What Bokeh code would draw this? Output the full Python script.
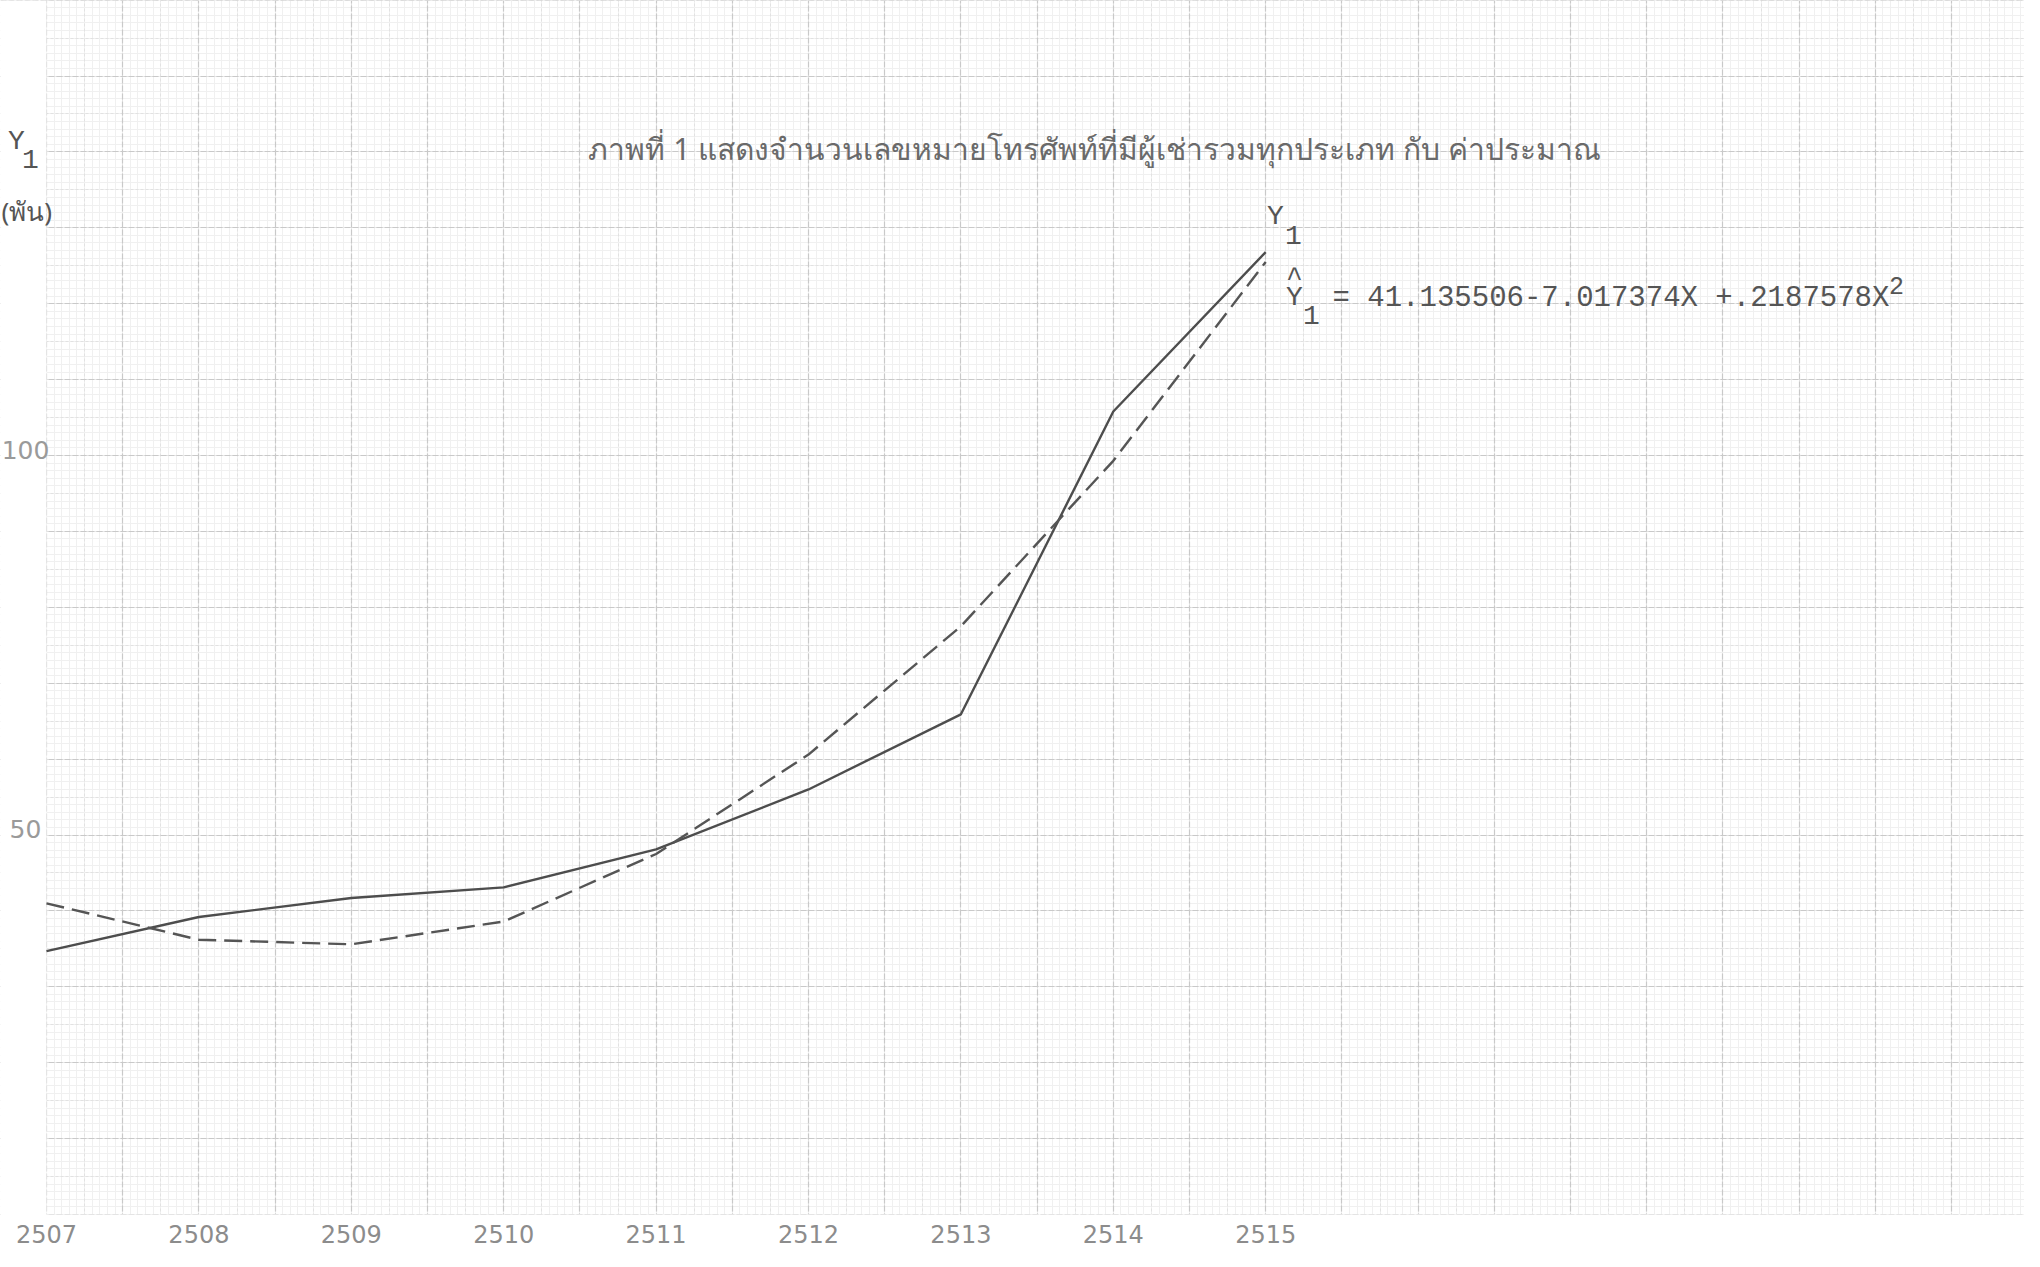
import numpy as np
from bokeh.plotting import figure
from bokeh.models import Grid, FixedTicker, BoxAnnotation, Label, Range1d
from bokeh.core.properties import value
from bokeh.embed import file_html
from bokeh.resources import INLINE

# ---- data ----
years = [2507, 2508, 2509, 2510, 2511, 2512, 2513, 2514, 2515]
actual_y1 = [34.7, 39.2, 41.7, 43.1, 48.1, 56.0, 65.9, 105.8, 126.8]
estimated_y1 = [41.0, 36.2, 35.6, 38.6, 47.5, 60.6, 77.5, 99.3, 125.5]
x_tick_labels = ["2507", "2508", "2509", "2510", "2511", "2512", "2513", "2514", "2515"]
y_tick_values = [50, 100]
y_tick_labels = ["50", "100"]
title_text = "ภาพที่ 1  แสดงจำนวนเลขหมายโทรศัพท์ที่มีผู้เช่ารวมทุกประเภท กับ ค่าประมาณ"
equation_body = "= 41.135506-7.017374X +.2187578X"
unit_text = "(พัน)"

# ---- layout helpers (page pixel -> data) ----
X0_PX, PX_PER_YEAR = 54.0, 152.4
Y0_PX, PX_PER_UNIT = 1222.0, 7.59


def dx(px):
    return 2507 + (px - X0_PX) / PX_PER_YEAR


def dy(py):
    return (Y0_PX - py) / PX_PER_UNIT


p = figure(width=2024, height=1251,
           x_range=Range1d(dx(8), dx(2032)), y_range=Range1d(dy(1259), dy(8)),
           x_axis_location=None, y_axis_location=None,
           output_backend="svg", toolbar_location=None, min_border=0)
p.grid.visible = False
p.outline_line_color = None
p.background_fill_color = "white"
p.border_fill_color = "white"

# ---- graph paper grid ----
x_minor = list(np.round(np.arange(2507, 2520.01, 0.05), 3))
x_mid = list(np.round(np.arange(2507, 2520.01, 0.25), 3))
x_major = list(np.round(np.arange(2507, 2520.01, 0.5), 3))
y_minor = list(np.arange(0, 161, 1))
y_mid = list(np.arange(0, 161, 5))
y_major = list(np.arange(0, 161, 10))

for dim, ticks, color, width, dash in [
    (0, x_minor, "#f0f0f0", 1, "solid"), (1, y_minor, "#f0f0f0", 1, "solid"),
    (0, x_mid, "#e2e2e2", 1, "3 2"), (1, y_mid, "#e2e2e2", 1, "3 2"),
    (0, x_major, "#c9c9c9", 1.2, "6 2"), (1, y_major, "#c9c9c9", 1.2, "6 2"),
]:
    p.add_layout(Grid(dimension=dim, ticker=FixedTicker(ticks=ticks),
                      grid_line_color=color, grid_line_width=width,
                      grid_line_dash=dash))

# white paper margins (left of 2507 and below 0)
p.add_layout(BoxAnnotation(right=2507, fill_color="white", fill_alpha=1.0,
                           line_alpha=0, level="underlay"))
p.add_layout(BoxAnnotation(top=0, fill_color="white", fill_alpha=1.0,
                           line_alpha=0, level="underlay"))

# ---- data lines ----
p.line(years, actual_y1, line_color="#4d4d4d", line_width=2.4)
p.line(years, estimated_y1, line_color="#555555", line_width=2.4, line_dash="18 8")

# ---- tick labels ----
p.text(x=years, y=[dy(1241)] * len(years), text=x_tick_labels,
       text_font=value("DejaVu Sans"), text_font_size="24px",
       text_color="#8c8c8c", text_align="center", text_baseline="middle")
p.text(x=[dx(33)] * len(y_tick_values), y=y_tick_values, text=y_tick_labels,
       text_font=value("DejaVu Sans"), text_font_size="25px",
       text_color="#9a9a9a", text_align="center", text_baseline="middle",
       y_offset=-6)

# ---- texts ----
mono = "Liberation Mono"
txt = "#555555"

p.add_layout(Label(x=dx(1106), y=dy(156), text=title_text, text_font="Noto Sans",
                   text_font_size="30px", text_color="#6a6a6a",
                   text_align="center", text_baseline="middle"))

# Y1 label next to the end of the curve
p.add_layout(Label(x=dx(1283), y=dy(224), text="Y", text_font=mono,
                   text_font_size="28px", text_color=txt,
                   text_align="center", text_baseline="middle"))
p.add_layout(Label(x=dx(1301), y=dy(242), text="1", text_font=mono,
                   text_font_size="28px", text_color=txt,
                   text_align="center", text_baseline="middle"))

# equation
p.add_layout(Label(x=dx(1302), y=dy(286), text="^", text_font=mono,
                   text_font_size="28px", text_color=txt,
                   text_align="center", text_baseline="middle"))
p.add_layout(Label(x=dx(1302), y=dy(305), text="Y", text_font=mono,
                   text_font_size="28px", text_color=txt,
                   text_align="center", text_baseline="middle"))
p.add_layout(Label(x=dx(1319), y=dy(322), text="1", text_font=mono,
                   text_font_size="28px", text_color=txt,
                   text_align="center", text_baseline="middle"))
p.add_layout(Label(x=dx(1340), y=dy(306), text=equation_body, text_font=mono,
                   text_font_size="29px", text_color=txt,
                   text_align="left", text_baseline="middle"))
p.add_layout(Label(x=dx(1904), y=dy(293), text="2", text_font=mono,
                   text_font_size="25px", text_color=txt,
                   text_align="center", text_baseline="middle"))

# y axis title at the left
p.add_layout(Label(x=dx(24), y=dy(149), text="Y", text_font=mono,
                   text_font_size="28px", text_color=txt,
                   text_align="center", text_baseline="middle"))
p.add_layout(Label(x=dx(38), y=dy(166), text="1", text_font=mono,
                   text_font_size="28px", text_color=txt,
                   text_align="center", text_baseline="middle"))
p.add_layout(Label(x=dx(9), y=dy(218), text=unit_text, text_font="Noto Sans",
                   text_font_size="26px", text_color=txt,
                   text_align="left", text_baseline="middle"))

open("out.html", "w").write(file_html(p, INLINE))
